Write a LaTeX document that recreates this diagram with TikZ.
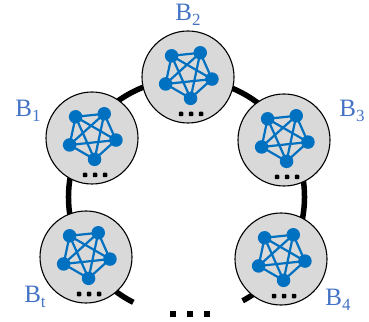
\documentclass[tikz,border=0pt]{standalone}
\usepackage{fontspec}
\setmainfont{Liberation Serif}
\definecolor{labelblue}{RGB}{68,114,196}
\definecolor{netblue}{RGB}{0,112,192}
\definecolor{discgray}{RGB}{217,217,217}
\newcommand\lblsub[1]{\raisebox{-0.2em}{\fontsize{17}{17}\selectfont #1}}
\begin{document}
\begin{tikzpicture}[x=1pt,y=1pt,
  disc/.style={circle,draw=black,line width=1.1pt,fill=discgray,minimum size=92pt,inner sep=0pt},
  ringline/.style={line width=5.5pt,black},
  vertex/.style={circle,fill=netblue,inner sep=0pt,minimum size=13.5pt},
  netedge/.style={netblue,line width=2.2pt},
  dotmark/.style={rectangle,rounded corners=0.8pt,fill=black,inner sep=0pt,minimum size=4.5pt},
  bigdot/.style={rectangle,fill=black,inner sep=0pt,minimum size=6.5pt},
  blabel/.style={text=labelblue,font=\fontsize{25}{25}\selectfont,inner sep=0pt},
  pics/cluster/.style={code={
    \foreach \a [count=\i] in {60,-12,-84,-156,132} {\coordinate (-v\i) at (\a:24.5);}
    \foreach \i/\j in {1/2,2/3,3/4,4/5,5/1,1/3,1/4,2/4,2/5,3/5} {\draw[netedge] (-v\i) -- (-v\j);}
    \foreach \i in {1,...,5} {\node[vertex] (-n\i) at (-v\i) {};}
    \foreach \dx [count=\k] in {-10,0,10} {\node[dotmark] (-d\k) at (3+\dx,-40) {};}
  }}]
\useasboundingbox (0,0) rectangle (369,321);

% the ring that links the blocks, open at the bottom
\coordinate (ringc) at (186.5,124);
\draw[ringline] ([shift={(-61.6:118)}]ringc) arc[start angle=-61.6,end angle=243.2,radius=118];

% blocks
\node[disc] (b2) at (188,244) {};
\node[disc] (b1) at (92,183) {};
\node[disc] (b3) at (284,181) {};
\node[disc] (bt) at (86,64) {};
\node[disc] (b4) at (281,62) {};

% fully connected cluster inside each block
\pic (k2) at ([yshift=3pt]b2.center) {cluster};
\pic (k1) at ([yshift=3pt]b1.center) {cluster};
\pic (k3) at ([yshift=3pt]b3.center) {cluster};
\pic (kt) at ([yshift=3pt]bt.center) {cluster};
\pic (k4) at ([yshift=3pt]b4.center) {cluster};

% labels
\node[blabel] (l2) at (188,306) {B\lblsub{2}};
\node[blabel] (l1) at (28,210) {B\lblsub{1}};
\node[blabel] (l3) at (352,210) {B\lblsub{3}};
\node[blabel] (lt) at (35,24) {B\lblsub{t}};
\node[blabel] (l4) at (338,21) {B\lblsub{4}};

% ellipsis in the gap of the ring
\node[bigdot] (e1) at (173,7) {};
\node[bigdot] (e2) at (190,7) {};
\node[bigdot] (e3) at (207,7) {};
\end{tikzpicture}
\end{document}
